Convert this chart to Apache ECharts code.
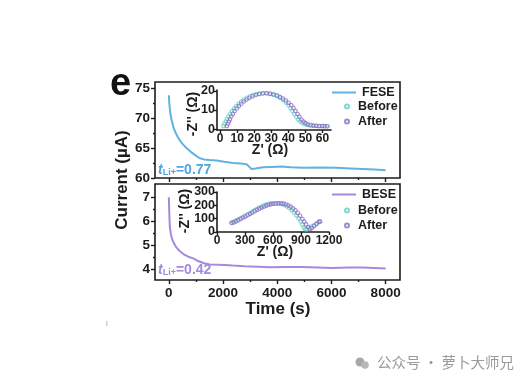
<!DOCTYPE html>
<html>
<head>
<meta charset="utf-8">
<style>
html, body { margin: 0; padding: 0; background: #fff; }
#chart { width: 529px; height: 385px; }
</style>
<script src="https://cdn.jsdelivr.net/npm/echarts@6/dist/echarts.min.js"></script>
</head>
<body>
<div id="chart"></div>
<script>
// main curves [time, current]
const feseCurve = [[0,73.8],[20,72.4],[50,71],[100,69.7],[180,68.3],[285,67.2],[400,66.3],[520,65.6],[650,65],[800,64.4],[950,63.9],[1140,63.3],[1300,63.1],[1500,63],[1760,62.9],[2050,62.7],[2360,62.5],[2650,62.4],[2870,62.3],[2960,61.9],[3050,61.5],[3200,61.6],[3470,61.8],[3800,61.85],[4160,61.9],[4500,61.8],[4950,61.7],[5500,61.75],[6190,61.7],[6700,61.6],[7160,61.5],[7600,61.4],[8000,61.3]];
const beseCurve = [[0,7],[15,6.4],[37,5.76],[70,5.5],[110,5.3],[160,5.14],[270,4.92],[400,4.76],[550,4.62],[720,4.52],[900,4.45],[1100,4.33],[1300,4.25],[1510,4.2],[1880,4.19],[2360,4.15],[2800,4.12],[3300,4.1],[3730,4.08],[4300,4.09],[4950,4.09],[5500,4.07],[6050,4.05],[6600,4.07],[7160,4.07],[7600,4.05],[8000,4.03]];

// inset Nyquist points [Z', -Z'']
const feseBefore = [[2,1.6],[2.6,2.8],[3.3,4],[4,5.2],[4.9,6.6],[5.9,8],[7,9.4],[8.2,10.8],[9.5,12],[10.9,13.2],[12.4,14.4],[14,15.5],[15.7,16.4],[17.5,17.2],[19.4,17.9],[21.4,18.4],[23.4,18.7],[25.5,18.8],[27.6,18.7],[29.6,18.4],[31.6,17.9],[33.5,17.2],[35.3,16.3],[37,15.2],[38.6,13.9],[40,12.5],[41.3,11],[42.5,9.4],[43.6,7.8],[44.7,6.3],[45.8,5],[47,4],[48.2,3.2],[49.5,2.6],[51,2.2],[52.6,1.9],[54.3,1.8],[56,1.7],[57.8,1.6],[59.6,1.6],[61.2,1.5],[62.7,1.5]];
const feseAfter = [[4,1.6],[4.6,2.8],[5.2,4],[5.8,5.2],[6.6,6.6],[7.5,8],[8.5,9.4],[9.7,10.8],[11,12.1],[12.4,13.3],[13.9,14.5],[15.5,15.5],[17.2,16.4],[19,17.2],[20.9,17.9],[22.9,18.4],[25,18.7],[27.1,18.8],[29.2,18.6],[31.2,18.2],[33.2,17.7],[35.1,16.9],[36.9,16],[38.6,15],[40.2,13.8],[41.7,12.5],[43,11],[44.2,9.5],[45.4,7.9],[46.5,6.4],[47.7,5],[48.9,3.9],[50.2,3.1],[51.6,2.5],[53.1,2.1],[54.8,1.8],[56.5,1.7],[58.2,1.6],[60,1.6],[61.5,1.5],[62.9,1.5]];
const beseBefore = [[157,70],[175,76],[200,85],[225,94],[250,103],[275,112],[300,122],[325,131],[350,141],[375,151],[400,162],[425,172],[450,182],[475,191],[500,199],[525,205],[550,210],[575,213],[600,215],[625,215],[650,215],[675,213],[700,209],[725,202],[750,192],[775,179],[800,165],[825,146],[850,125],[875,102],[895,80],[915,55],[930,35],[943,22],[960,20],[985,30],[1010,40],[1040,52],[1070,65],[1100,77]];
const beseAfter = [[157,68],[180,72],[205,80],[230,89],[255,98],[280,107],[305,116],[330,126],[355,136],[380,146],[405,156],[430,166],[455,175],[480,183],[505,191],[530,198],[555,204],[580,209],[605,212],[630,214],[660,215],[690,215],[715,213],[740,208],[765,200],[790,190],[815,177],[840,162],[865,144],[890,122],[915,98],[935,78],[955,57],[975,38],[996,22],[1015,30],[1040,45],[1065,60],[1090,75],[1105,80]];

// tick lists
const timeMajor = [0, 2000, 4000, 6000, 8000];
const timeMinor = [1000, 3000, 5000, 7000];
const feseMajor = [60, 65, 70, 75];
const feseMinor = [62.5, 67.5, 72.5];
const beseMajor = [4, 5, 6, 7];
const beseMinor = [4.5, 5.5, 6.5];
const inset1XTicks = [0, 10, 20, 30, 40, 50, 60];
const inset1YTicks = [0, 10, 20];
const inset2XTicks = [0, 300, 600, 900, 1200];
const inset2YTicks = [0, 100, 200, 300];

const dark = '#1c1c1c';
const font = '"Liberation Sans", Arial, sans-serif';
const blue = '#62b2e0';
const purple = '#a688df';
const teal = '#5cd0c6';
const violet = '#8a6cc4';

function axis(type, gridIndex, min, max, ticks, opt) {
  return Object.assign({
    type: 'value',
    gridIndex: gridIndex,
    min: min,
    max: max,
    splitLine: { show: false },
    axisLine: { show: opt.line !== false, onZero: false, lineStyle: { color: dark, width: 1.6 } },
    axisTick: { show: true, customValues: ticks, length: opt.tick || 4, lineStyle: { color: dark, width: 1.4 } },
    axisLabel: opt.label ? {
      show: true,
      customValues: ticks,
      formatter: function (v) { return String(v); },
      color: dark,
      fontFamily: font,
      fontWeight: 'bold',
      fontSize: opt.label,
      margin: opt.margin || 5
    } : { show: false }
  }, type === 'x' ? { position: 'bottom' } : { position: 'left' });
}

function lineSeries(name, data, color, x, y) {
  return { name, type: 'line', data, xAxisIndex: x, yAxisIndex: y, showSymbol: false, smooth: false, silent: true, z: 3, lineStyle: { color, width: 2 }, itemStyle: { color } };
}
function dotSeries(name, data, color, x, y) {
  return { name, type: 'scatter', data, xAxisIndex: x, yAxisIndex: y, symbol: 'circle', symbolSize: 3.5, silent: true, z: 4, itemStyle: { color: 'rgba(255,255,255,0.3)', borderColor: color, borderWidth: 1.1 } };
}

const lineLegend = { itemWidth: 24, itemHeight: 2, textStyle: { color: dark, fontFamily: font, fontWeight: 'bold', fontSize: 12.5, padding: [0, 0, 0, 1] }, icon: 'rect', selectedMode: false, padding: 0 };
const dotLegend = { orient: 'vertical', itemWidth: 6, itemHeight: 4, itemGap: 2, textStyle: { color: dark, fontFamily: font, fontWeight: 'bold', fontSize: 12.5, padding: [0, 0, 0, 3] }, selectedMode: false, padding: 0 };

const chart = echarts.init(document.getElementById('chart'));
chart.setOption({
  animation: false,
  backgroundColor: '#fff',
  grid: [
    { left: 155, top: 82, width: 245, height: 96, show: true, borderColor: dark, borderWidth: 1.6, backgroundColor: 'transparent' },
    { left: 155, top: 184, width: 245, height: 96, show: true, borderColor: dark, borderWidth: 1.6, backgroundColor: 'transparent' },
    { left: 217, top: 90, width: 114, height: 40 },
    { left: 217, top: 192, width: 112, height: 40 }
  ],
  xAxis: [
    axis('x', 0, -510, 8530, timeMajor, { line: false, tick: 4 }),
    axis('x', 0, -510, 8530, timeMinor, { line: false, tick: 2 }),
    axis('x', 1, -510, 8530, timeMajor, { line: false, tick: 4, label: 13.5, margin: 6 }),
    axis('x', 1, -510, 8530, timeMinor, { line: false, tick: 2 }),
    axis('x', 2, -1.8, 65, inset1XTicks, { tick: 3, label: 12, margin: 3 }),
    axis('x', 3, 0, 1200, inset2XTicks, { tick: 3, label: 12, margin: 3 })
  ],
  yAxis: [
    axis('y', 0, 60, 76, feseMajor, { line: false, tick: 4, label: 13.5, margin: 5 }),
    axis('y', 0, 60, 76, feseMinor, { line: false, tick: 2 }),
    axis('y', 1, 3.55, 7.55, beseMajor, { line: false, tick: 4, label: 13.5, margin: 5 }),
    axis('y', 1, 3.55, 7.55, beseMinor, { line: false, tick: 2 }),
    axis('y', 2, -0.5, 20.5, inset1YTicks, { tick: 3, label: 12.5, margin: 2 }),
    axis('y', 3, 0, 300, inset2YTicks, { tick: 3, label: 12.5, margin: 2 })
  ],
  legend: [
    Object.assign({ data: ['FESE'], left: 332, top: 86 }, lineLegend),
    Object.assign({ data: ['BESE'], left: 332, top: 188 }, lineLegend),
    Object.assign({ data: ['Before', 'After'], left: 344, top: 100 }, dotLegend),
    Object.assign({ data: ['Before', 'After'], left: 344, top: 204 }, dotLegend)
  ],
  series: [
    lineSeries('FESE', feseCurve, blue, 0, 0),
    lineSeries('BESE', beseCurve, purple, 2, 2),
    dotSeries('Before', feseBefore, teal, 4, 4),
    dotSeries('After', feseAfter, violet, 4, 4),
    dotSeries('Before', beseBefore, teal, 5, 5),
    dotSeries('After', beseAfter, violet, 5, 5)
  ],
  graphic: [
    { type: 'text', left: 110, top: 66, style: { text: 'e', fill: '#111', font: 'bold 38px ' + font } },
    { type: 'text', x: 122, y: 180, rotation: Math.PI / 2, style: { text: 'Current (µA)', fill: dark, font: 'bold 17px ' + font, align: 'center', verticalAlign: 'middle' } },
    { type: 'text', x: 278, y: 309, style: { text: 'Time (s)', fill: dark, font: 'bold 17px ' + font, align: 'center', verticalAlign: 'middle' } },
    { type: 'text', x: 193, y: 114, rotation: Math.PI / 2, style: { text: '-Z\'\' (Ω)', fill: dark, font: 'bold 14px ' + font, align: 'center', verticalAlign: 'middle' } },
    { type: 'text', x: 185, y: 211, rotation: Math.PI / 2, style: { text: '-Z\'\' (Ω)', fill: dark, font: 'bold 14px ' + font, align: 'center', verticalAlign: 'middle' } },
    { type: 'text', x: 270, y: 150, style: { text: 'Z\' (Ω)', fill: dark, font: 'bold 14px ' + font, align: 'center', verticalAlign: 'middle' } },
    { type: 'text', x: 275, y: 252, style: { text: 'Z\' (Ω)', fill: dark, font: 'bold 14px ' + font, align: 'center', verticalAlign: 'middle' } },
    { type: 'text', left: 158, top: 163, style: {
      text: '{t|t}{s|Li+}{v|=0.77}',
      rich: {
        t: { fill: '#4ea6e0', font: 'italic bold 14px ' + font },
        s: { fill: '#4ea6e0', font: 'bold 9px ' + font, padding: [6, 0, 0, 0] },
        v: { fill: '#4ea6e0', font: 'bold 14px ' + font }
      }
    } },
    { type: 'text', left: 158, top: 263, style: {
      text: '{t|t}{s|Li+}{v|=0.42}',
      rich: {
        t: { fill: purple, font: 'italic bold 14px ' + font },
        s: { fill: purple, font: 'bold 9px ' + font, padding: [6, 0, 0, 0] },
        v: { fill: purple, font: 'bold 14px ' + font }
      }
    } },
    { type: 'rect', shape: { x: 106, y: 321, width: 1.5, height: 5 }, style: { fill: '#cfcfcf' } },
    { type: 'circle', shape: { cx: 360, cy: 362, r: 4.5 }, style: { fill: '#a8a8a8' } },
    { type: 'circle', shape: { cx: 365, cy: 365, r: 3.8 }, style: { fill: '#b8b8b8' } },
    { type: 'text', left: 377, top: 355, style: { text: '公众号 · 萝卜大师兄', fill: '#9a9a9a', font: '14.5px "Noto Sans CJK SC"' } }
  ]
});
</script>
</body>
</html>
